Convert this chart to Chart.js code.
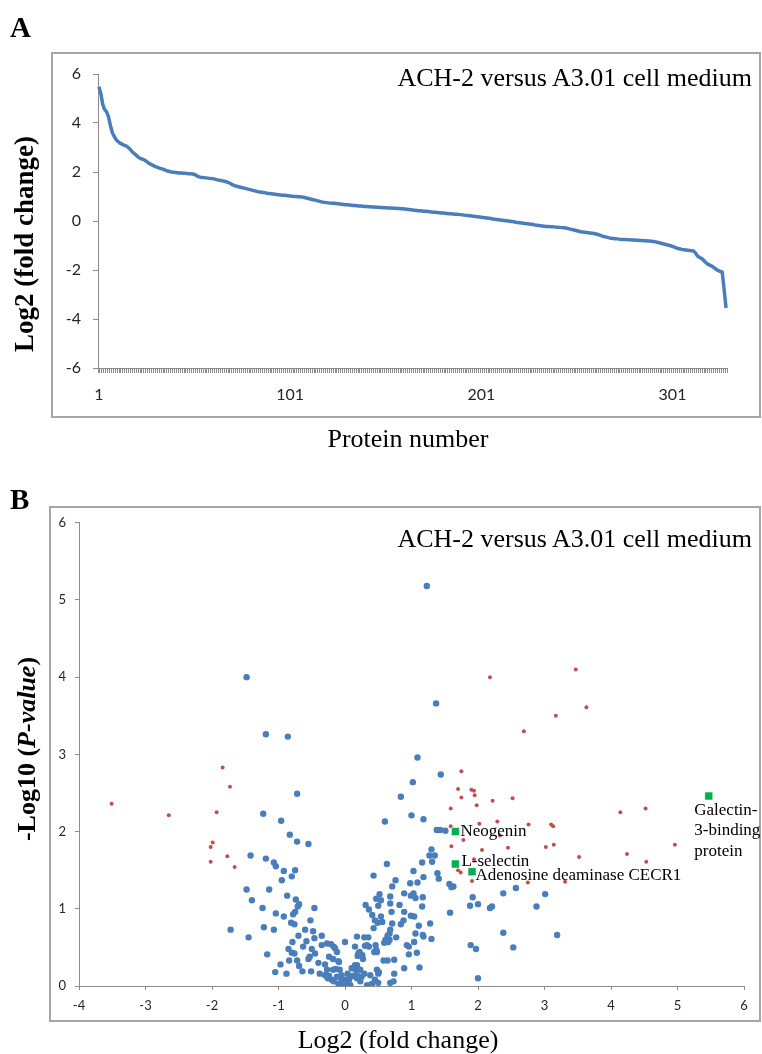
<!DOCTYPE html>
<html>
<head>
<meta charset="utf-8">
<script src="https://cdn.jsdelivr.net/npm/chart.js@4.4.1/dist/chart.umd.min.js"></script>
<style>
  body { margin: 0; background: #fff; }
  #page { position: relative; width: 762px; height: 1054px; overflow: hidden; color: #000;
          font-family: "Liberation Serif", "Times New Roman", serif; }
  canvas { position: absolute; left: 0; }
  .frame { position: absolute; box-sizing: border-box; border: 2px solid #a6a6a6; }
  .txt { position: absolute; line-height: 1; white-space: nowrap; }
  .letter { font-weight: bold; font-size: 29px; left: 10px; }
  .note { font-size: 26px; right: 10px; transform: translateY(-50%); }
  .xtitle { font-size: 26px; transform: translate(-50%, -50%); }
  .ytitle { font-weight: bold; transform: translate(-50%, -50%) rotate(-90deg); }
</style>
</head>
<body>
<div id="page">
  <div class="frame" style="left:51px; top:52px; width:710px; height:366px;"></div>
  <div class="frame" style="left:49px; top:506px; width:712px; height:516px;"></div>
  <canvas id="sortedChart" width="762" height="470" style="top:0;"></canvas>
  <canvas id="volcanoChart" width="762" height="584" style="top:470px;"></canvas>

  <div class="txt letter" style="top:13px;">A</div>
  <div class="txt letter" style="top:485px;">B</div>
  <div class="txt note" style="top:78px;">ACH-2 versus A3.01 cell medium</div>
  <div class="txt note" style="top:539px;">ACH-2 versus A3.01 cell medium</div>
  <div class="txt xtitle" style="left:408px; top:439px;">Protein number</div>
  <div class="txt xtitle" style="left:398px; top:1040px;">Log2 (fold change)</div>
  <div class="txt ytitle" style="left:24px; top:244px; font-size:27px;">Log2 (fold change)</div>
  <div class="txt ytitle" style="left:27px; top:749px; font-size:26px;">-Log10 (<i>P-value</i>)</div>
</div>

<script>
// Panel A: log2 fold change of each protein, sorted high to low
const foldChange = [
  5.48, 5.2, 4.75, 4.55, 4.45, 4.25, 3.9, 3.6, 3.45, 3.32,
  3.24, 3.18, 3.14, 3.1, 3.07, 3.02, 2.95, 2.86, 2.78, 2.72,
  2.65, 2.58, 2.54, 2.52, 2.48, 2.42, 2.36, 2.32, 2.28, 2.24,
  2.21, 2.18, 2.15, 2.13, 2.1, 2.07, 2.04, 2.02, 2.0, 1.99,
  1.98, 1.97, 1.96, 1.96, 1.95, 1.95, 1.94, 1.93, 1.93, 1.92,
  1.9, 1.86, 1.81, 1.79, 1.78, 1.77, 1.76, 1.75, 1.74, 1.73,
  1.72, 1.7, 1.68, 1.66, 1.65, 1.63, 1.61, 1.59, 1.56, 1.52,
  1.47, 1.44, 1.42, 1.4, 1.38, 1.36, 1.34, 1.32, 1.3, 1.28,
  1.26, 1.24, 1.22, 1.2, 1.18, 1.17, 1.16, 1.15, 1.13, 1.12,
  1.11, 1.1, 1.09, 1.08, 1.07, 1.06, 1.05, 1.05, 1.04, 1.03,
  1.02, 1.01, 1.0, 1.0, 0.99, 0.99, 0.98, 0.97, 0.95, 0.93,
  0.91, 0.89, 0.87, 0.85, 0.83, 0.81, 0.79, 0.77, 0.76, 0.75,
  0.74, 0.73, 0.72, 0.72, 0.71, 0.7, 0.69, 0.68, 0.67, 0.66,
  0.66, 0.65, 0.64, 0.63, 0.63, 0.62, 0.61, 0.61, 0.6, 0.59,
  0.59, 0.58, 0.58, 0.57, 0.57, 0.56, 0.56, 0.55, 0.55, 0.54,
  0.54, 0.53, 0.53, 0.53, 0.52, 0.52, 0.51, 0.51, 0.5, 0.5,
  0.49, 0.48, 0.47, 0.46, 0.45, 0.44, 0.43, 0.42, 0.42, 0.41,
  0.4, 0.4, 0.39, 0.38, 0.37, 0.36, 0.36, 0.35, 0.34, 0.33,
  0.33, 0.32, 0.31, 0.3, 0.3, 0.29, 0.28, 0.28, 0.27, 0.26,
  0.25, 0.24, 0.23, 0.22, 0.21, 0.2, 0.19, 0.18, 0.17, 0.16,
  0.15, 0.14, 0.13, 0.12, 0.11, 0.1, 0.08, 0.07, 0.06, 0.05,
  0.04, 0.03, 0.02, 0.01, 0.0, -0.01, -0.02, -0.03, -0.05, -0.06,
  -0.07, -0.08, -0.09, -0.1, -0.11, -0.12, -0.13, -0.14, -0.16, -0.17,
  -0.18, -0.19, -0.2, -0.21, -0.22, -0.22, -0.23, -0.23, -0.24, -0.25,
  -0.25, -0.26, -0.27, -0.28, -0.29, -0.3, -0.32, -0.34, -0.36, -0.38,
  -0.4, -0.42, -0.44, -0.45, -0.46, -0.47, -0.48, -0.49, -0.5, -0.51,
  -0.53, -0.55, -0.58, -0.61, -0.63, -0.65, -0.67, -0.69, -0.7, -0.71,
  -0.72, -0.73, -0.74, -0.75, -0.75, -0.76, -0.76, -0.77, -0.77, -0.78,
  -0.78, -0.79, -0.79, -0.8, -0.8, -0.81, -0.81, -0.82, -0.82, -0.83,
  -0.84, -0.85, -0.87, -0.89, -0.91, -0.93, -0.95, -0.97, -0.99, -1.01,
  -1.04, -1.07, -1.1, -1.12, -1.14, -1.16, -1.17, -1.18, -1.19, -1.2,
  -1.21, -1.22, -1.3, -1.42, -1.48, -1.52, -1.58, -1.66, -1.74, -1.78,
  -1.82, -1.86, -1.92, -1.98, -2.03, -2.06, -2.08, -2.8, -3.55
];
const proteinNumbers = foldChange.map((v, i) => String(i + 1));
const proteinTickLabels = ["1", "101", "201", "301"];

// Panel B: [log2 fold change, -log10 p-value]
const bluePoints = [
  [-1.48, 4.00], [-1.19, 3.26], [-0.86, 3.23], [1.23, 5.18], [1.37, 3.66], [1.09, 2.96], [1.44, 2.74], [1.02, 2.64], [0.84, 2.45],
  [-0.72, 2.49], [-1.23, 2.23], [-0.96, 2.14], [-0.83, 1.96], [-0.72, 1.87], [-0.55, 1.84],
  [-1.42, 1.69], [-1.19, 1.65], [-1.07, 1.60], [-1.04, 1.55], [-0.92, 1.49], [-0.75, 1.50], [-0.80, 1.42], [-0.95, 1.37],
  [-1.48, 1.25], [-1.14, 1.25], [-1.40, 1.11], [-0.87, 1.17], [-0.74, 1.12], [-0.69, 1.06], [-0.71, 1.03], [-0.46, 1.01], [-1.24, 1.01],
  [-1.04, 0.94], [-0.92, 0.90], [-0.75, 0.96], [-0.78, 0.93], [-0.81, 0.82], [-0.76, 0.80], [-0.52, 0.85],
  [-1.72, 0.73], [-1.45, 0.63], [-1.22, 0.76], [-1.07, 0.73], [-0.70, 0.65], [-0.60, 0.73], [-0.48, 0.71], [-0.46, 0.62], [-0.35, 0.65],
  [-0.79, 0.57], [-0.58, 0.58], [-0.63, 0.51], [-0.85, 0.48], [-0.80, 0.43], [-0.76, 0.42], [-0.50, 0.48], [-0.45, 0.42], [-0.53, 0.38], [-0.55, 0.35],
  [-1.17, 0.41], [-0.84, 0.33], [-0.72, 0.33], [-0.97, 0.28], [-0.69, 0.26], [-1.05, 0.18], [-0.88, 0.16], [-0.64, 0.19], [-0.51, 0.19], [-0.40, 0.30], [-0.35, 0.53],
  [-0.27, 0.55], [-0.21, 0.54], [-0.17, 0.51], [0.00, 0.57], [-0.12, 0.44], [-0.24, 0.38], [-0.18, 0.35], [-0.09, 0.31], [-0.30, 0.28], [-0.27, 0.21], [-0.14, 0.22],
  [-0.24, 0.13], [-0.20, 0.08], [-0.26, 0.10], [-0.17, 0.06], [-0.12, 0.12], [-0.05, 0.08], [0.00, 0.03], [0.06, 0.08], [0.12, 0.13], [0.16, 0.21], [0.18, 0.27], [0.20, 0.42], [0.18, 0.64], [0.15, 0.51],
  [-0.38, 0.16], [-0.30, 0.14], [-0.10, 0.03], [-0.03, 0.01], [0.03, 0.06], [0.08, 0.01], [0.18, 0.14], [0.23, 0.21], [0.33, 0.01], [0.38, 0.01], [0.45, 0.08], [0.50, 0.16],
  [-0.05, 0.14], [-0.08, 0.21], [-0.18, 0.21], [-0.15, 0.49], [-0.10, 0.32],
  [0.29, 0.16], [0.25, 0.12], [0.15, 0.27], [0.10, 0.23], [0.04, 0.16], [0.08, 0.12], [0.02, 0.08], [0.18, 0.10], [0.23, 0.06], [0.40, 0.01],
  [0.38, 0.14], [0.48, 0.21], [0.51, 0.18], [0.41, 0.03], [0.50, 0.04],
  [0.22, 0.44], [0.19, 0.39], [0.26, 0.40], [0.27, 0.35], [0.29, 0.63], [0.35, 0.63], [0.33, 0.53], [0.36, 0.51], [0.30, 0.52],
  [0.46, 0.53], [0.47, 0.47], [0.44, 0.44], [0.48, 0.44], [0.58, 0.33], [0.64, 0.33], [0.74, 0.34], [0.96, 0.41], [1.08, 0.43],
  [0.89, 0.23], [1.12, 0.24], [0.74, 0.16], [0.73, 0.06], [0.68, 0.04],
  [1.04, 0.57], [0.93, 0.53], [0.96, 0.51], [0.59, 0.56], [0.65, 0.57], [0.61, 0.60],
  [0.68, 0.73], [0.67, 0.68], [0.64, 0.65], [0.67, 0.60], [1.06, 0.68], [1.17, 0.66], [1.18, 0.64], [1.30, 0.61], [0.77, 0.63],
  [0.68, 1.07], [0.70, 0.96], [0.82, 1.05], [0.84, 0.80], [0.89, 0.96], [0.88, 0.85], [0.99, 0.91], [1.04, 0.90], [0.71, 0.81], [1.11, 0.78], [1.28, 0.81],
  [0.52, 1.19], [0.47, 1.13], [0.54, 1.11], [0.50, 1.04], [0.68, 1.16], [0.89, 1.20], [0.99, 1.17], [1.03, 1.20], [1.06, 1.14],
  [1.17, 1.15], [1.16, 1.03], [0.31, 1.05], [0.36, 0.99], [0.41, 0.92], [0.45, 0.85], [0.43, 0.75], [0.54, 0.90], [0.56, 0.83], [0.49, 0.82],
  [1.00, 2.21], [1.18, 2.16], [0.60, 2.13], [1.38, 2.02], [1.43, 2.02], [1.51, 2.01], [1.30, 1.77], [1.27, 1.69], [1.35, 1.69], [1.31, 1.61], [1.16, 1.60], [0.63, 1.58],
  [1.03, 1.49], [1.18, 1.41], [0.76, 1.37], [0.43, 1.43], [0.71, 1.29], [0.98, 1.33], [1.09, 1.34], [1.39, 1.46], [1.41, 1.39], [1.57, 1.32], [1.60, 1.28], [1.63, 1.29],
  [1.92, 1.15], [1.88, 1.04], [2.00, 1.06], [1.58, 0.95], [1.89, 0.53], [1.97, 0.48], [2.00, 0.10],
  [2.38, 1.20], [2.57, 1.27], [3.01, 1.19], [2.88, 1.03], [2.18, 1.01], [2.21, 1.03], [2.38, 0.69], [2.53, 0.50], [3.19, 0.66]
];

const redPoints = [
  [-3.51, 2.36], [-2.65, 2.21], [-1.84, 2.83], [-1.73, 2.58], [-1.93, 2.25], [-1.99, 1.86], [-2.02, 1.80], [-1.77, 1.68], [-2.02, 1.61], [-1.66, 1.54],
  [2.18, 4.00], [3.47, 4.10], [3.63, 3.61], [3.17, 3.50], [2.69, 3.30], [1.75, 2.78], [1.70, 2.55], [1.90, 2.54], [1.94, 2.53], [1.75, 2.44],
  [1.95, 2.47], [1.98, 2.34], [2.22, 2.40], [2.52, 2.43], [1.59, 2.30], [4.14, 2.25], [4.52, 2.30], [2.02, 2.10], [2.29, 2.13], [2.76, 2.09],
  [3.10, 2.09], [3.13, 2.07], [1.59, 2.07], [1.78, 1.89], [2.33, 1.95], [1.60, 1.81], [2.06, 1.76], [2.45, 1.79], [3.02, 1.80], [3.14, 1.83],
  [4.96, 1.83], [3.52, 1.67], [4.24, 1.71], [4.53, 1.61], [1.94, 1.64], [1.70, 1.50], [1.74, 1.47], [1.91, 1.36], [2.75, 1.34], [3.31, 1.35]
];

const greenPoints = [[1.66, 2.00], [1.66, 1.58], [1.91, 1.48], [5.47, 2.46]];
const greenLabels = [["Neogenin"], ["L-selectin"], ["Adenosine deaminase CECR1"], ["Galectin-", "3-binding", "protein"]];

// Colours and fonts
const excelBlue = "#4a7ebb";
const excelRed = "#c0504d";
const excelGreen = "#00b050";
const axisGray = "#8c8c8c";
const tickColor = "#262626";

// where each label sits relative to its green square (pixels)
const labelOffsets = [
  { dx: 5, dy: 0 },
  { dx: 6, dy: -2.5 },
  { dx: 3.5, dy: 4 },
  { dx: -14.5, dy: 14 },
];

const toXY = (p) => ({ x: p[0], y: p[1] });

const pointLabels = {
  id: "pointLabels",
  afterDatasetsDraw(chart) {
    const meta = chart.getDatasetMeta(0);
    const ctx = chart.ctx;
    ctx.save();
    ctx.font = '17px "Liberation Serif", "Times New Roman", serif';
    ctx.fillStyle = "#000";
    ctx.textAlign = "left";
    ctx.textBaseline = "middle";
    meta.data.forEach(function (pt, i) {
      const off = labelOffsets[i];
      greenLabels[i].forEach(function (line, k) {
        ctx.fillText(line, pt.x + off.dx, pt.y + off.dy + k * 20.8);
      });
    });
    ctx.restore();
  },
};

// Sorted fold changes
new Chart(document.getElementById("sortedChart"), {
  type: "line",
  data: {
    labels: proteinNumbers,
    datasets: [
      {
        data: foldChange,
        borderColor: excelBlue,
        borderWidth: 3.5,
        pointRadius: 0,
        tension: 0,
        fill: false,
        borderJoinStyle: "round",
      },
    ],
  },
  options: {
    responsive: false,
    animation: false,
    devicePixelRatio: 1,
    layout: { padding: { top: 74, right: 35, left: 0, bottom: 0 } },
    plugins: { legend: { display: false }, tooltip: { enabled: false } },
    scales: {
      x: {
        type: "category",
        offset: true,
        grid: { drawOnChartArea: false, offset: true, tickLength: 5, color: axisGray },
        border: { color: axisGray, width: 1 },
        ticks: {
          autoSkip: false,
          maxRotation: 0,
          minRotation: 0,
          padding: 12,
          color: tickColor,
          font: { family: "Lato", size: 16 },
          callback: function (value, index) {
            const label = proteinNumbers[index];
            return proteinTickLabels.includes(label) ? label : "";
          },
        },
        afterFit: function (scale) {
          scale.height = 102;
        },
      },
      y: {
        min: -6,
        max: 6,
        grid: { drawOnChartArea: false, tickLength: 5, color: axisGray },
        border: { color: axisGray, width: 1 },
        ticks: { stepSize: 2, padding: 12, color: tickColor, font: { family: "Lato", size: 16 } },
        afterFit: function (scale) {
          scale.width = 98;
        },
      },
    },
  },
});

// Volcano plot
new Chart(document.getElementById("volcanoChart"), {
  type: "scatter",
  data: {
    datasets: [
      {
        data: greenPoints.map(toXY),
        pointStyle: "rect",
        pointRadius: 5.6,
        backgroundColor: excelGreen,
        borderColor: "#ffffff",
        borderWidth: 0.5,
      },
      {
        data: redPoints.map(toXY),
        pointRadius: 2,
        backgroundColor: excelRed,
        borderWidth: 0,
      },
      {
        data: bluePoints.map(toXY),
        pointRadius: 3.2,
        backgroundColor: excelBlue,
        borderWidth: 0,
      },
    ],
  },
  options: {
    responsive: false,
    animation: false,
    devicePixelRatio: 1,
    layout: { padding: { top: 52.7, right: 18, left: 0, bottom: 0 } },
    plugins: { legend: { display: false }, tooltip: { enabled: false } },
    scales: {
      x: {
        type: "linear",
        min: -4,
        max: 6,
        grid: { drawOnChartArea: false, tickLength: 4, color: axisGray },
        border: { color: axisGray, width: 1 },
        ticks: { stepSize: 1, padding: 8, color: tickColor, font: { family: "Lato", size: 13 } },
        afterFit: function (scale) {
          scale.height = 68;
        },
      },
      y: {
        min: 0,
        max: 6,
        grid: { drawOnChartArea: false, tickLength: 4, color: axisGray },
        border: { color: axisGray, width: 1 },
        ticks: { stepSize: 1, padding: 9, color: tickColor, font: { family: "Lato", size: 13 } },
        afterFit: function (scale) {
          scale.width = 79;
        },
      },
    },
  },
  plugins: [pointLabels],
});
</script>
</body>
</html>
